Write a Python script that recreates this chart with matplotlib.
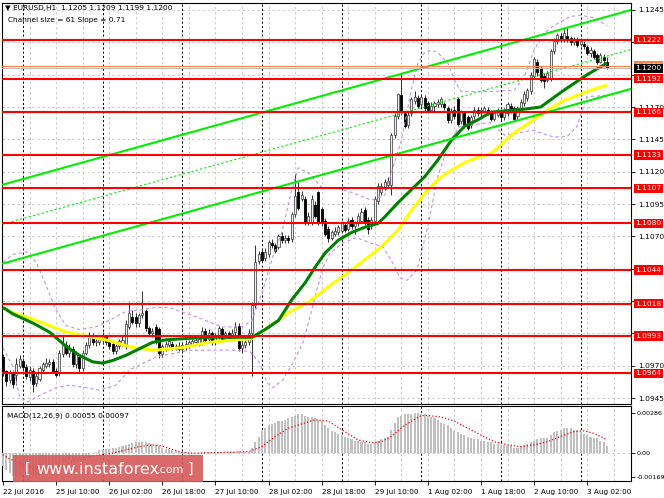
import numpy as np
import matplotlib
matplotlib.use("Agg")
import matplotlib.pyplot as plt
from matplotlib.patches import Rectangle
from matplotlib.transforms import blended_transform_factory

# ---------------- data (EURUSD H1, 22 Jul 2016 18:00 -> 3 Aug 2016 08:00) ----------------
opens = [
    1.0977,1.0966,1.0959,1.0964,1.0963,1.0970,1.0974,1.0969,1.0961,1.0966,
    1.0957,1.0960,1.0967,1.0970,1.0971,1.0973,1.0966,1.0964,1.0979,1.0986,
    1.0980,1.0983,1.0971,1.0977,1.0968,1.0980,1.0986,1.0992,1.0988,1.0988,
    1.0990,1.0992,1.0988,1.0987,1.0981,1.0985,1.0986,1.0985,1.1000,1.1008,
    1.1008,1.1003,1.1009,1.1012,1.0999,1.0995,1.1000,1.0998,1.0979,1.0983,
    1.0986,1.0987,1.0983,1.0985,1.0983,1.0985,1.0986,1.0987,1.0988,1.0986,
    1.0988,1.0997,1.0991,1.0995,1.0988,1.0993,1.0998,1.0991,1.0995,1.0991,
    1.0996,1.1001,1.0984,1.0986,1.0988,1.0995,1.1017,1.1051,1.1058,1.1053,
    1.1056,1.1065,1.1063,1.1062,1.1070,1.1067,1.1069,1.1068,1.1087,1.1104,
    1.1099,1.1099,1.1081,1.1081,1.1094,1.1104,1.1091,1.1082,1.1076,1.1069,
    1.1072,1.1073,1.1074,1.1079,1.1076,1.1083,1.1078,1.1080,1.1082,1.1090,
    1.1083,1.1078,1.1082,1.1097,1.1104,1.1108,1.1110,1.1110,1.1148,1.1163,
    1.1179,1.1165,1.1156,1.1165,1.1175,1.1177,1.1172,1.1177,1.1173,1.1168,
    1.1171,1.1172,1.1172,1.1172,1.1169,1.1160,1.1168,1.1176,1.1159,1.1165,
    1.1162,1.1156,1.1163,1.1168,1.1165,1.1167,1.1168,1.1166,1.1161,1.1164,
    1.1166,1.1162,1.1165,1.1171,1.1169,1.1163,1.1169,1.1173,1.1177,1.1182,
    1.1194,1.1205,1.1200,1.1194,1.1191,1.1192,1.1213,1.1221,1.1225,1.1222,
    1.1225,1.1223,1.1220,1.1222,1.1219,1.1219,1.1216,1.1212,1.1213,1.1210,
    1.1205,1.1209,1.1205]
highs = [
    1.0979,1.0967,1.0967,1.0966,1.0976,1.0978,1.0976,1.0971,1.0970,1.0968,
    1.0964,1.0970,1.0973,1.0976,1.0975,1.0975,1.0968,1.0982,1.0994,1.0989,
    1.0987,1.0985,1.0981,1.0979,1.0982,1.0988,1.0996,1.0995,1.0993,1.0994,
    1.0996,1.0994,1.0990,1.0989,1.0987,1.0991,1.0993,1.1005,1.1019,1.1013,
    1.1011,1.1011,1.1028,1.1014,1.1001,1.0999,1.1002,1.1000,1.0987,1.0989,
    1.0991,1.0989,1.0987,1.0988,1.0988,1.0990,1.0990,1.0991,1.0993,1.0993,
    1.1000,1.0999,1.0998,1.0997,1.0995,1.1001,1.1000,1.0997,1.0997,1.0998,
    1.1004,1.1003,1.0990,1.0990,1.0998,1.1019,1.1063,1.1059,1.1060,1.1061,
    1.1067,1.1068,1.1065,1.1072,1.1073,1.1071,1.1071,1.1089,1.1118,1.1112,
    1.1105,1.1101,1.1089,1.1102,1.1097,1.1105,1.1093,1.1084,1.1078,1.1075,
    1.1077,1.1079,1.1082,1.1081,1.1084,1.1085,1.1082,1.1088,1.1092,1.1093,
    1.1085,1.1085,1.1101,1.1111,1.1111,1.1114,1.1116,1.1150,1.1165,1.1181,
    1.1196,1.1167,1.1167,1.1178,1.1182,1.1179,1.1180,1.1179,1.1175,1.1174,
    1.1175,1.1176,1.1178,1.1174,1.1171,1.1169,1.1171,1.1178,1.1168,1.1167,
    1.1164,1.1164,1.1170,1.1170,1.1170,1.1171,1.1170,1.1168,1.1167,1.1169,
    1.1168,1.1169,1.1174,1.1173,1.1171,1.1171,1.1176,1.1182,1.1185,1.1197,
    1.1209,1.1207,1.1202,1.1196,1.1198,1.1215,1.1223,1.1227,1.1227,1.1230,
    1.1231,1.1225,1.1224,1.1224,1.1223,1.1221,1.1218,1.1216,1.1215,1.1212,
    1.1212,1.1211,1.1209]
lows = [
    1.0962,1.0954,1.0957,1.0953,1.0955,1.0968,1.0966,1.0960,1.0958,1.0950,
    1.0954,1.0958,1.0965,1.0968,1.0969,1.0964,1.0961,1.0962,1.0977,1.0978,
    1.0977,1.0969,1.0968,1.0965,1.0966,1.0978,1.0984,1.0986,1.0985,1.0986,
    1.0987,1.0986,1.0983,1.0979,1.0979,1.0983,1.0985,1.0983,1.0998,1.1002,
    1.1000,1.1000,1.1007,1.0997,1.0993,1.0992,1.0987,1.0976,1.0977,1.0981,
    1.0984,1.0982,1.0982,1.0981,1.0980,1.0982,1.0984,1.0985,1.0986,1.0985,
    1.0986,1.0988,1.0989,1.0986,1.0986,1.0991,1.0988,1.0989,1.0989,1.0990,
    1.0994,1.0981,1.0980,1.0984,1.0986,1.0962,1.1015,1.1049,1.1050,1.1051,
    1.1054,1.1061,1.1057,1.1060,1.1065,1.1065,1.1065,1.1066,1.1085,1.1090,
    1.1097,1.1079,1.1079,1.1079,1.1084,1.1079,1.1078,1.1070,1.1066,1.1067,
    1.1070,1.1071,1.1073,1.1073,1.1074,1.1076,1.1072,1.1078,1.1080,1.1079,
    1.1072,1.1076,1.1080,1.1095,1.1102,1.1106,1.1108,1.1102,1.1146,1.1161,
    1.1164,1.1154,1.1154,1.1163,1.1172,1.1169,1.1170,1.1167,1.1166,1.1166,
    1.1167,1.1170,1.1170,1.1168,1.1158,1.1158,1.1161,1.1155,1.1157,1.1154,
    1.1152,1.1154,1.1161,1.1163,1.1163,1.1165,1.1164,1.1159,1.1159,1.1162,
    1.1160,1.1160,1.1163,1.1165,1.1159,1.1161,1.1167,1.1171,1.1175,1.1180,
    1.1192,1.1194,1.1189,1.1185,1.1189,1.1190,1.1211,1.1219,1.1220,1.1220,
    1.1220,1.1218,1.1218,1.1216,1.1217,1.1215,1.1210,1.1209,1.1207,1.1203,
    1.1204,1.1204,1.1199]
closes = [
    1.0966,1.0958,1.0965,1.0956,1.0971,1.0975,1.0969,1.0962,1.0967,1.0956,
    1.0962,1.0968,1.0971,1.0972,1.0973,1.0966,1.0963,1.0980,1.0986,1.0980,
    1.0984,1.0971,1.0979,1.0968,1.0980,1.0986,1.0993,1.0988,1.0989,1.0991,
    1.0993,1.0988,1.0985,1.0981,1.0985,1.0989,1.0990,1.1002,1.1011,1.1004,
    1.1003,1.1009,1.1011,1.0999,1.0995,1.0997,1.0989,1.0980,1.0985,1.0987,
    1.0989,1.0984,1.0985,1.0983,1.0986,1.0987,1.0988,1.0989,1.0990,1.0991,
    1.0997,1.0990,1.0995,1.0988,1.0993,1.0999,1.0990,1.0995,1.0991,1.0995,
    1.1000,1.0984,1.0986,1.0988,1.0995,1.1017,1.1050,1.1056,1.1052,1.1058,
    1.1066,1.1063,1.1059,1.1070,1.1067,1.1069,1.1067,1.1087,1.1101,1.1092,
    1.1102,1.1081,1.1086,1.1099,1.1086,1.1081,1.1080,1.1072,1.1069,1.1073,
    1.1074,1.1077,1.1080,1.1075,1.1082,1.1078,1.1080,1.1086,1.1089,1.1081,
    1.1076,1.1083,1.1099,1.1109,1.1109,1.1112,1.1113,1.1148,1.1163,1.1180,
    1.1167,1.1155,1.1164,1.1176,1.1178,1.1171,1.1178,1.1169,1.1168,1.1171,
    1.1173,1.1174,1.1176,1.1170,1.1160,1.1167,1.1163,1.1157,1.1166,1.1156,
    1.1154,1.1162,1.1168,1.1165,1.1168,1.1169,1.1166,1.1161,1.1165,1.1167,
    1.1162,1.1166,1.1172,1.1167,1.1161,1.1169,1.1174,1.1180,1.1183,1.1195,
    1.1207,1.1197,1.1191,1.1190,1.1196,1.1213,1.1221,1.1226,1.1222,1.1227,
    1.1222,1.1220,1.1222,1.1218,1.1221,1.1217,1.1212,1.1214,1.1209,1.1205,
    1.1210,1.1206,1.1200]

# moving averages (bar index, price)
ma_fast_idx = [0,3,9,14,19,23,27,30,33,37,41,45,49,55,62,69,75,79,83,87,
               91,94,97,101,105,109,113,115,119,123,127,131,135,139,143,147,156,162,169,176,182]
ma_fast_val = [1.1015,1.1010,1.1003,1.0996,1.0985,1.0978,1.0973,1.0972,1.0974,1.0978,
               1.0983,1.0988,1.0990,1.0991,1.0992,1.0992,1.0992,1.0998,1.1005,1.1021,
               1.1034,1.1046,1.1057,1.1067,1.1073,1.1077,1.1080,1.1085,1.1096,1.1106,
               1.1116,1.1129,1.1144,1.1155,1.1160,1.1166,1.1168,1.1170,1.1183,1.1195,1.1204]
ma_slow_idx = [0,3,9,15,19,23,27,31,35,39,46,54,62,70,75,80,86,92,98,105,
               111,114,119,123,127,131,135,139,143,147,154,162,169,176,182]
ma_slow_val = [1.1015,1.1011,1.1006,1.1000,1.0996,1.0994,1.0992,1.0990,1.0987,1.0984,
               1.0982,1.0984,1.0988,1.0990,1.0991,1.1000,1.1011,1.1019,1.1031,1.1044,
               1.1056,1.1062,1.1075,1.1090,1.1103,1.1114,1.1121,1.1127,1.1131,1.1134,
               1.1150,1.1164,1.1175,1.1182,1.1187]
# Bollinger bands
bb_up_idx = [0,3,7,10,13,16,19,23,28,32,37,41,46,50,58,66,72,75,78,81,
             84,87,89,92,96,101,105,111,115,120,123,125,127,129,131,134,136,138,147,154,
             157,160,163,166,171,174,178,182]
bb_up_val = [1.1050,1.1056,1.1058,1.1050,1.1032,1.1013,1.1001,1.0998,1.1000,1.1005,
             1.1012,1.1013,1.1015,1.1015,1.1008,1.1000,1.1000,1.1005,1.1026,1.1052,
             1.1073,1.1106,1.1123,1.1119,1.1108,1.1107,1.1104,1.1098,1.1102,1.1144,
             1.1183,1.1204,1.1212,1.1214,1.1212,1.1204,1.1191,1.1182,1.1182,1.1183,
             1.1193,1.1214,1.1227,1.1233,1.1240,1.1241,1.1239,1.1233]
bb_lo_idx = [0,3,5,7.5,11,16,20,25,29,34,38.3,46.4,56.3,66.3,70.5,74.4,77.4,79.5,81.3,84.3,
             87.3,90.4,92.5,94.6,96.4,98.5,102.4,106.6,110.5,114.5,117.5,119.6,121.7,124.7,126.5,128.6,
             130.7,134.6,137.7,146.7,151.2,159.6,165.7,169.9,172.9,175.9,182]
bb_lo_val = [1.0984,1.0969,1.0946,1.0942,1.0947,1.0953,1.0955,1.0953,1.0951,1.0955,
             1.0967,1.0977,1.0982,1.0982,1.0982,1.0981,1.0972,1.0957,1.0953,1.0959,
             1.0972,1.0988,1.1008,1.1029,1.1046,1.1057,1.1065,1.1069,1.1065,1.1062,
             1.1049,1.1038,1.1036,1.1044,1.1062,1.1085,1.1114,1.1144,1.1155,1.1158,
             1.1148,1.1152,1.1147,1.1147,1.1155,1.1178,1.1179]

# support / resistance levels, bid / ask
levels = [1.1222, 1.1192, 1.1166, 1.1133, 1.1107, 1.1080, 1.1044, 1.1018, 1.0993, 1.0964]
bid, ask = 1.1200, 1.1202
# regression channel (start bar, end bar) and its upper border prices
chan_idx = [0, 189.2]
chan_upper = [1.1110, 1.1245]
chan_size = 0.0061

# MACD(12,26,9): main histogram per bar and signal line samples
macd = [
    -0.0009,-0.0012,-0.0014,-0.0016,-0.00169,-0.0016,-0.0015,-0.0015,-0.0015,-0.0016,
    -0.0016,-0.0015,-0.0014,-0.0013,-0.0012,-0.0012,-0.0011,-0.0009,-0.0007,-0.0006,
    -0.0005,-0.0005,-0.0004,-0.0004,-0.0003,-0.0002,-0.0001,0.00002,0.0001,0.0002,
    0.00025,0.0003,0.0003,0.00035,0.0004,0.00045,0.0005,0.0006,0.0007,0.00075,
    0.0008,0.0008,0.00082,0.0008,0.00072,0.00065,0.0006,0.0005,0.0004,0.00033,
    0.00028,0.0002,0.00015,0.00012,0.0001,0.00006,0.00005,0.00004,0.00004,0.00005,
    0.00006,0.0001,0.0001,0.0001,0.00008,0.0001,0.00012,0.0001,0.0001,0.0001,
    0.00012,0.00015,0.0001,0.00008,0.0001,0.0004,0.0008,0.0012,0.0016,0.0018,
    0.0020,0.0021,0.0022,0.0023,0.0023,0.0024,0.0025,0.0026,0.0027,0.0028,
    0.0028,0.0027,0.0026,0.0026,0.0025,0.0024,0.0023,0.0020,0.0018,0.0016,
    0.0015,0.0014,0.0013,0.0012,0.0011,0.0010,0.0009,0.0009,0.0008,0.0008,
    0.0007,0.0007,0.0008,0.0009,0.0010,0.0011,0.0012,0.0017,0.0022,0.0026,
    0.0027,0.0028,0.0028,0.0028,0.00286,0.00286,0.0028,0.0028,0.0027,0.0026,
    0.0025,0.0024,0.0022,0.0021,0.0020,0.0018,0.0016,0.0015,0.0014,0.0013,
    0.0012,0.0011,0.0010,0.0010,0.0009,0.0009,0.0008,0.0008,0.0007,0.0007,
    0.0006,0.0006,0.0005,0.0005,0.0004,0.0004,0.0005,0.0006,0.0007,0.0008,
    0.0009,0.0010,0.0011,0.0011,0.0011,0.0013,0.0015,0.0016,0.0017,0.0018,
    0.0018,0.0018,0.0017,0.0017,0.0015,0.0014,0.0013,0.0012,0.0011,0.0011,
    0.0009,0.0008,0.00055]
sig_idx = [0,2,4,7,10,13,16,19,22,25,28,33,37,41,45,48,51,54,58,64,
           70,74,78,82,86,90,94,98,102,107,111,114,117,121,126,128,132,136,140,144,
           148,152,156,160,164,168,172,175,178,182]
sig_val = [-0.0001,-0.0004,-0.0006,-0.0009,-0.0010,-0.0011,-0.0010,-0.0008,-0.0005,-0.0003,
           -0.00015,0.0,0.00024,0.00048,0.0006,0.00052,0.00028,0.00005,0.0,0.00005,
           0.00008,0.00012,0.00048,0.0012,0.0018,0.0021,0.0024,0.0023,0.0017,0.00095,
           0.00076,0.00083,0.0012,0.0020,0.0027,0.0027,0.0026,0.0023,0.0018,0.0013,
           0.00083,0.0006,0.00048,0.0006,0.00083,0.0012,0.00155,0.0016,0.00143,0.00097]

x_labels = ["22 Jul 2016", "25 Jul 10:00", "26 Jul 02:00", "26 Jul 18:00", "27 Jul 10:00",
            "28 Jul 02:00", "28 Jul 18:00", "29 Jul 10:00", "1 Aug 02:00", "1 Aug 18:00",
            "2 Aug 10:00", "3 Aug 02:00"]
label_step = 16      # bars between time labels
grid_step = 8        # bars between vertical grid lines
first_midnight = 6   # bar index of 25 Jul 00:00
price_ticks = [1.0945 + 0.0025 * k for k in range(13)]
macd_ticks = [-0.00169, 0.0, 0.00286]

# ---------------- drawing ----------------
W, H = 664, 498
fig = plt.figure(figsize=(W / 100, H / 100), dpi=100)
fig.patch.set_facecolor("white")
fx = lambda px: px / W
fy = lambda py: 1 - py / H
plt.rcParams["font.family"] = ["DejaVu Sans"]

ax = fig.add_axes([fx(2), fy(404), fx(631) - fx(2), fy(3) - fy(404)])
axm = fig.add_axes([fx(2), fy(481), fx(631) - fx(2), fy(406) - fy(481)])

o, h, l, c = map(np.array, (opens, highs, lows, closes))
n = len(c)
xs = np.arange(n)
XLIM = (-0.3, 189.2)

for a in (ax, axm):
    a.set_xlim(*XLIM)
    for sp in a.spines.values():
        sp.set_linewidth(0.8)
        sp.set_color("black")
    for k in range(grid_step, int(XLIM[1]) + 1, grid_step):
        a.axvline(k, color="#c4c4c4", lw=0.6, ls=(0, (3, 3)), zorder=0.5)
    for d in range(first_midnight, n, 24):
        a.axvline(d, color="black", lw=0.7, ls=(0, (2.2, 2.2)), zorder=0.6)

ax.set_ylim(1.09404, 1.12504)
for p in price_ticks:
    ax.axhline(p, color="#c4c4c4", lw=0.6, ls=(0, (3, 3)), zorder=0.5)

# candles
up = c >= o
bot = np.minimum(o, c)
hgt = np.maximum(np.abs(c - o), 0.00003)
ax.vlines(xs, l, h, color="#303030", lw=0.7, zorder=3)
ax.bar(xs[up], hgt[up], bottom=bot[up], width=0.62, color="#f0f0f0",
       edgecolor="#505050", linewidth=0.6, zorder=4)
ax.bar(xs[~up], hgt[~up], bottom=bot[~up], width=0.62, color="black",
       edgecolor="black", linewidth=0.6, zorder=4)

# indicators
ax.plot(bb_up_idx, bb_up_val, color="#c58ef0", lw=0.8, ls=(0, (3, 2.5)), zorder=5)
ax.plot(bb_lo_idx, bb_lo_val, color="#c58ef0", lw=0.8, ls=(0, (3, 2.5)), zorder=5)
ax.plot(ma_slow_idx, ma_slow_val, color="#ffff00", lw=2.2, zorder=6, solid_capstyle="butt")
ax.plot(ma_fast_idx, ma_fast_val, color="#008000", lw=2.2, zorder=6, solid_capstyle="butt")

# channel
cu = np.array(chan_upper)
ax.plot(chan_idx, cu, color="#00ee00", lw=1.5, zorder=7)
ax.plot(chan_idx, cu - chan_size, color="#00ee00", lw=1.5, zorder=7)
ax.plot(chan_idx, cu - chan_size / 2, color="#00ee00", lw=0.8, ls=(0, (2, 2)), zorder=7)

# levels
for lv in levels:
    ax.axhline(lv, color="#ff0000", lw=1.5, zorder=8)
ax.axhline(ask, color="#ff8040", lw=0.8, zorder=8)
ax.axhline(bid, color="#b8b8b8", lw=0.8, zorder=8)

# right axis: plain tick labels, hidden where a level box sits on top of them
boxed = levels + [bid, ask]
ax.yaxis.tick_right()
ax.set_yticks(price_ticks)
ax.set_yticklabels(["" if min(abs(p - b) for b in boxed) < 0.00035 else f"{p:.4f}"
                    for p in price_ticks])
ax.tick_params(axis="y", length=3, width=0.6, labelsize=5.4, pad=2, colors="black")
ax.tick_params(axis="x", bottom=False, labelbottom=False)

tr = blended_transform_factory(ax.transAxes, ax.transData)
def box_label(val, fc, z):
    ax.text(1.0072, val, f"{val:.4f}", transform=tr, color="white", fontsize=5.4,
            va="center", ha="left", zorder=z, clip_on=False,
            bbox=dict(boxstyle="square,pad=0.22", fc=fc, ec="none"))
for lv in levels:
    box_label(lv, "#ff0000", 10)
box_label(ask, "#ff8040", 11)
box_label(bid, "black", 12)

# MACD panel
axm.set_ylim(-0.00198, 0.00338)
axm.axhline(0, color="#c4c4c4", lw=0.6, ls=(0, (3, 3)), zorder=0.5)
axm.bar(xs, macd, width=0.62, color="#c0c0c0", zorder=3)
axm.plot(sig_idx, sig_val, color="#ff0000", lw=0.9, ls=(0, (1, 1.6)), zorder=4)
axm.yaxis.tick_right()
axm.set_yticks(macd_ticks)
axm.set_yticklabels(["-0.00169", "0.00", "0.00286"])
axm.tick_params(axis="y", length=3, width=0.6, labelsize=4.6, pad=1.2)
tick_pos = [label_step * k for k in range(len(x_labels))]
axm.set_xticks(tick_pos)
axm.set_xticklabels(x_labels)
for t in axm.get_xticklabels():
    t.set_ha("left")
axm.tick_params(axis="x", length=3, width=0.6, labelsize=5.2, pad=2.5)

# header texts
fig.text(fx(5), fy(8), "\u25BC EURUSD,H1  1.1205 1.1209 1.1199 1.1200", fontsize=5.3, va="center")
fig.text(fx(8), fy(20), "Channel size = 61 Slope = 0.71", fontsize=5.3, va="center")
fig.text(fx(7), fy(416), "MACD(12,26,9) 0.00055 0.00097", fontsize=5.3, va="center")

# watermark
fig.add_artist(Rectangle((fx(13), fy(482)), fx(203) - fx(13), fy(455) - fy(482),
                         transform=fig.transFigure, fc="#d65a5a", ec="none", alpha=0.9, zorder=20))
fig.text(fx(25), fy(469), "[", fontsize=10, color="white", va="center", zorder=21)
fig.text(fx(36), fy(469), "www.instaforex", fontsize=11.5, color="white", va="center", zorder=21)
fig.text(fx(157), fy(470), ".com", fontsize=8, color="white", va="center", zorder=21)
fig.text(fx(188), fy(469), "]", fontsize=10, color="white", va="center", zorder=21)

fig.savefig("out.png", dpi=100)
